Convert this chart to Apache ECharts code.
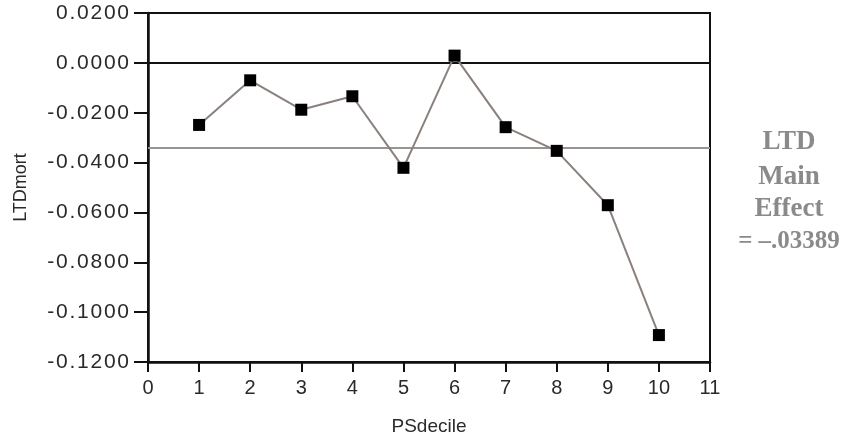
<!DOCTYPE html>
<html><head><meta charset="utf-8">
<script src="https://cdn.jsdelivr.net/npm/echarts@6/dist/echarts.min.js"></script>
<style>html,body{margin:0;padding:0;background:#fff;overflow:hidden}#c{width:843px;height:441px}</style>
</head><body><div id="c"></div>
<script>
var deciles = [1, 2, 3, 4, 5, 6, 7, 8, 9, 10];
var ltdMort = [-0.0249, -0.0070, -0.0188, -0.0134, -0.0421, 0.0029, -0.0258, -0.0353, -0.0571, -0.1092];
var mainEffect = -0.03389;
var noteLines = ['LTD', 'Main', 'Effect', '= \u2013.03389'];

var chart = echarts.init(document.getElementById('c'));
var font = 'Liberation Sans, Arial, sans-serif';
function spaced(s) { return s.split('').join('\u200A'); }
chart.setOption({
  animation: false,
  backgroundColor: '#fff',
  grid: { left: 148, right: 133, top: 13, bottom: 74, show: true, borderColor: '#111', borderWidth: 2 },
  xAxis: {
    type: 'value', min: 0, max: 11, interval: 1,
    name: 'PSdecile', nameLocation: 'middle', nameGap: 55,
    nameTextStyle: { fontFamily: font, fontSize: 19, color: '#2a2a2a' },
    axisLine: { show: true, onZero: false, lineStyle: { color: '#111', width: 2.5 } },
    axisTick: { show: true, inside: false, length: 10, lineStyle: { color: '#111', width: 2 } },
    axisLabel: { fontFamily: font, fontSize: 20, color: '#2a2a2a', margin: 16 },
    splitLine: { show: false }
  },
  yAxis: {
    type: 'value', min: -0.12, max: 0.02, interval: 0.02,
    name: 'LTDmort', nameLocation: 'middle', nameGap: 118, nameRotate: 90,
    nameTextStyle: { fontFamily: font, fontSize: 18, color: '#2a2a2a' },
    axisLine: { show: true, onZero: false, lineStyle: { color: '#111', width: 2.5 } },
    axisTick: { show: true, inside: false, length: 14, lineStyle: { color: '#111', width: 2 } },
    axisLabel: { fontFamily: font, fontSize: 21, color: '#2a2a2a', margin: 19,
      formatter: function (v) { return spaced((Math.abs(v) < 1e-9 ? 0 : v).toFixed(4)); } },
    splitLine: { show: false }
  },
  series: [{
    type: 'line',
    data: deciles.map(function (d, i) { return [d, ltdMort[i]]; }),
    symbol: 'rect', symbolSize: 12,
    itemStyle: { color: '#000' },
    lineStyle: { color: '#8a807c', width: 2 },
    z: 5,
    markLine: {
      silent: true, symbol: 'none', precision: 6, label: { show: false },
      data: [
        { yAxis: 0, lineStyle: { color: '#111', width: 2, type: 'solid' } },
        { yAxis: mainEffect, lineStyle: { color: '#9a9490', width: 2, type: 'solid' } }
      ]
    }
  }],
  graphic: noteLines.map(function (t, i) {
    return {
      type: 'text', x: 789, y: 142 + [0, 35, 67, 100][i],
      style: { text: t, font: 'bold ' + (i === 3 ? 25 : 27) + 'px "Liberation Serif", "Times New Roman", serif',
        fill: '#8a8a8a', textAlign: 'center', textVerticalAlign: 'middle' }
    };
  })
});
</script></body></html>
